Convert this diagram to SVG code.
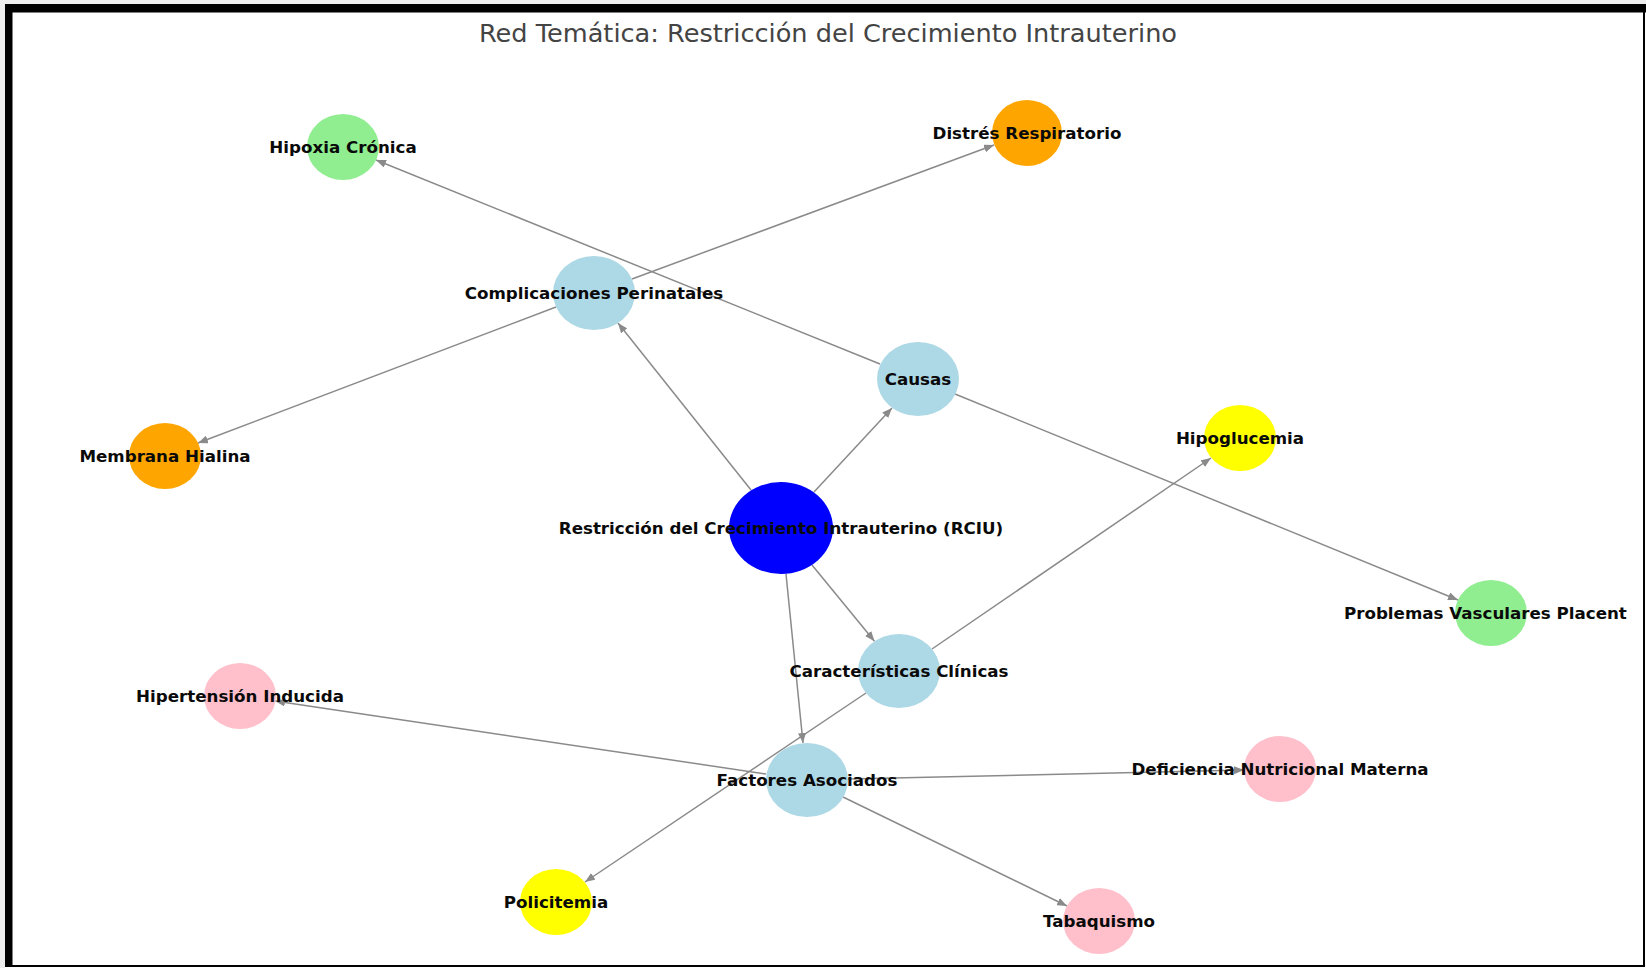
<svg xmlns="http://www.w3.org/2000/svg" width="1646" height="968" viewBox="0 0 1646 968">
<style>
.edge{stroke:#8a8a8a;stroke-width:1.5;fill:none;marker-end:url(#arr)}
.lbl{font-family:"DejaVu Sans",Verdana,sans-serif;font-weight:bold;font-size:16.7px;fill:#0a0a0a;text-anchor:middle;dominant-baseline:central}
.title{font-family:"DejaVu Sans",Verdana,sans-serif;font-size:25.6px;fill:#444;text-anchor:middle}
.lb{fill:#ADD8E6}.bl{fill:#0000FF}.lg{fill:#90EE90}.or{fill:#FFA500}.ye{fill:#FFFF00}.pk{fill:#FFC0CB}
</style>
<defs>
<marker id="arr" markerUnits="userSpaceOnUse" markerWidth="10" markerHeight="8" refX="10" refY="4" orient="auto">
<path d="M0,0 L10,4 L0,8 Z" fill="#8a8a8a"/>
</marker>
</defs>
<rect x="0" y="0" width="1646" height="968" fill="#ffffff"/>
<rect x="0" y="0" width="1646" height="4" fill="#eeeeee"/>
<rect x="0" y="0" width="5" height="968" fill="#eeeeee"/>
<g id="frame" fill="#000">
<rect x="5" y="4" width="1641" height="8.5"/>
<rect x="5" y="4" width="7.5" height="963"/>
<rect x="1643" y="4" width="2" height="963"/>
<rect x="5" y="965" width="1640" height="2"/>
</g>
<text class="title" x="828" y="42">Red Temática: Restricción del Crecimiento Intrauterino</text>
<g id="edges">
<line class="edge" x1="751" y1="490" x2="618" y2="323"/>
<line class="edge" x1="814" y1="492" x2="892" y2="408"/>
<line class="edge" x1="812" y1="565" x2="874.5" y2="641.3"/>
<line class="edge" x1="786" y1="574" x2="803" y2="743"/>
<line class="edge" x1="632" y1="279" x2="994" y2="145"/>
<line class="edge" x1="556" y1="307" x2="198" y2="443"/>
<line class="edge" x1="880" y1="364" x2="376" y2="160"/>
<line class="edge" x1="955" y1="394" x2="1458" y2="600"/>
<line class="edge" x1="932" y1="649" x2="1211" y2="458"/>
<line class="edge" x1="866" y1="693" x2="585" y2="882"/>
<line class="edge" x1="766" y1="774" x2="275" y2="701"/>
<line class="edge" x1="848" y1="779" x2="1244" y2="770"/>
<line class="edge" x1="843" y1="797" x2="1067" y2="906"/>
</g>
<g id="n-rciu"><ellipse class="bl" cx="781" cy="528" rx="52" ry="46"/><text class="lbl" x="781" y="528">Restricción del Crecimiento Intrauterino (RCIU)</text></g>
<g id="n-comp"><ellipse class="lb" cx="594" cy="293" rx="41" ry="37"/><text class="lbl" x="594" y="293">Complicaciones Perinatales</text></g>
<g id="n-causas"><ellipse class="lb" cx="918" cy="379" rx="41" ry="37"/><text class="lbl" x="918" y="379">Causas</text></g>
<g id="n-carac"><ellipse class="lb" cx="899" cy="671" rx="41" ry="37"/><text class="lbl" x="899" y="671">Características Clínicas</text></g>
<g id="n-fact"><ellipse class="lb" cx="807" cy="780" rx="41" ry="37"/><text class="lbl" x="807" y="780">Factores Asociados</text></g>
<g id="n-hipoxia"><ellipse class="lg" cx="343" cy="147" rx="36" ry="33"/><text class="lbl" x="343" y="147">Hipoxia Crónica</text></g>
<g id="n-distres"><ellipse class="or" cx="1027" cy="133" rx="35" ry="33"/><text class="lbl" x="1027" y="133">Distrés Respiratorio</text></g>
<g id="n-membrana"><ellipse class="or" cx="165" cy="456" rx="36" ry="33"/><text class="lbl" x="165" y="456">Membrana Hialina</text></g>
<g id="n-hipoglucemia"><ellipse class="ye" cx="1240" cy="438" rx="36" ry="33"/><text class="lbl" x="1240" y="438">Hipoglucemia</text></g>
<g id="n-problemas"><ellipse class="lg" cx="1491" cy="613" rx="36" ry="33"/><text class="lbl" x="1344" y="613" style="text-anchor:start">Problemas Vasculares Placent</text></g>
<g id="n-hipertension"><ellipse class="pk" cx="240" cy="696" rx="36" ry="33"/><text class="lbl" x="240" y="696">Hipertensión Inducida</text></g>
<g id="n-deficiencia"><ellipse class="pk" cx="1280" cy="769" rx="36" ry="33"/><text class="lbl" x="1280" y="769">Deficiencia Nutricional Materna</text></g>
<g id="n-policitemia"><ellipse class="ye" cx="556" cy="902" rx="36" ry="33"/><text class="lbl" x="556" y="902">Policitemia</text></g>
<g id="n-tabaquismo"><ellipse class="pk" cx="1099" cy="921" rx="36" ry="33"/><text class="lbl" x="1099" y="921">Tabaquismo</text></g>
</svg>
